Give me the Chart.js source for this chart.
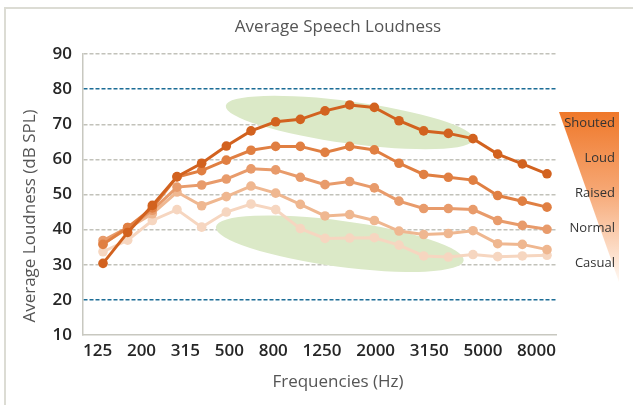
<!DOCTYPE html>
<html>
<head>
<meta charset="utf-8">
<script src="https://cdn.jsdelivr.net/npm/chart.js@4.4.0/dist/chart.umd.min.js"></script>
<style>
  html, body { margin: 0; padding: 0; background: #fff; }
</style>
</head>
<body>
<canvas id="myChart" width="633" height="405"></canvas>
<script>
// 1/3 octave bands
const frequencies = ['125', '160', '200', '250', '315', '400', '500', '630', '800', '1000',
    '1250', '1600', '2000', '2500', '3150', '4000', '5000', '6300', '8000'];
const levelNames = ['Shouted', 'Loud', 'Raised', 'Normal', 'Casual'];

const shouted = [30.4, 39.2, 46.9, 55.1, 58.9, 63.8, 68.1, 70.7, 71.4, 73.8, 75.5, 74.8, 71.0, 68.1, 67.4, 65.9, 61.5, 58.7, 55.9];
const loud    = [35.8, 40.6, 46.2, 55.0, 56.8, 59.8, 62.6, 63.7, 63.7, 62.0, 63.7, 62.7, 58.9, 55.7, 54.9, 54.1, 49.7, 48.1, 46.4];
const raised  = [36.9, 40.6, 45.5, 52.1, 52.7, 54.4, 57.3, 57.0, 54.9, 52.8, 53.7, 51.9, 48.1, 46.0, 46.0, 45.7, 42.6, 41.2, 40.1];
const normal  = [36.0, 40.3, 44.5, 50.7, 46.8, 49.4, 52.4, 50.4, 47.2, 43.9, 44.3, 42.6, 39.6, 38.6, 38.9, 39.7, 36.0, 35.8, 34.3];
const casual  = [33.7, 37.0, 42.6, 45.7, 40.7, 45.0, 47.3, 45.7, 40.3, 37.5, 37.6, 37.7, 35.6, 32.5, 32.2, 32.9, 32.3, 32.5, 32.7];

const yMin = 10, yMax = 90, yStep = 10;
const blueLines = [20, 80];

const seriesColors = ['#d2621f', '#e07f42', '#e89b6b', '#efb790', '#f6d6c0'];
const allSeries = [shouted, loud, raised, normal, casual];

const datasets = allSeries.map((vals, i) => ({
    label: levelNames[i],
    data: vals.map((v, j) => ({ x: j, y: v })),
    borderColor: seriesColors[i],
    backgroundColor: seriesColors[i],
    pointBackgroundColor: seriesColors[i],
    pointBorderWidth: 0,
    pointRadius: 4.8,
    borderWidth: 3,
    tension: 0
}));

const font = '"Open Sans", "DejaVu Sans", sans-serif';

const decor = {
    id: 'decor',
    beforeDraw(chart) {
        const ctx = chart.ctx;
        ctx.save();
        ctx.fillStyle = '#fff';
        ctx.fillRect(0, 0, chart.width, chart.height);
        ctx.strokeStyle = '#dcdcd4';
        ctx.lineWidth = 2;
        ctx.beginPath();
        ctx.moveTo(5, chart.height);
        ctx.lineTo(5, 8);
        ctx.lineTo(chart.width, 8);
        ctx.stroke();
        ctx.restore();
    },
    beforeDatasetsDraw(chart) {
        // green highlight areas
        const { ctx, scales: { x, y } } = chart;
        ctx.save();
        ctx.fillStyle = '#dbe9c7';
        [[10, 70.5, 125, 21], [9.6, 36, 125, 23]].forEach(([cx, cy, rx, ry]) => {
            ctx.beginPath();
            ctx.ellipse(x.getPixelForValue(cx), y.getPixelForValue(cy), rx, ry, 7.7 * Math.PI / 180, 0, Math.PI * 2);
            ctx.fill();
        });
        ctx.restore();
    },
    afterDraw(chart) {
        const { ctx, chartArea, scales: { y } } = chart;
        ctx.save();

        // titles
        ctx.fillStyle = '#555';
        ctx.textAlign = 'center';
        ctx.textBaseline = 'middle';
        ctx.font = '17px ' + font;
        ctx.fillText('Average Speech Loudness', 338, 27);
        ctx.fillText('Frequencies (Hz)', 338, 382);
        ctx.save();
        ctx.translate(30, 216);
        ctx.rotate(-Math.PI / 2);
        ctx.fillText('Average Loudness (dB SPL)', 0, 0);
        ctx.restore();

        // frequency labels, every other band, spread over the axis
        const shown = frequencies.filter((f, i) => i % 2 === 0);
        ctx.font = '600 17px ' + font;
        ctx.fillStyle = '#262626';
        const widths = shown.map(s => ctx.measureText(s).width);
        const total = widths.reduce((a, b) => a + b, 0);
        const gap = (chartArea.right - chartArea.left - total) / (shown.length - 1);
        let xx = chartArea.left;
        ctx.textAlign = 'left';
        shown.forEach((s, i) => {
            ctx.fillText(s, xx, chartArea.bottom + 16);
            xx += widths[i] + gap;
        });

        // loudness wedge
        const tx0 = chartArea.right + 3, tx1 = tx0 + 60, ty0 = 112, ty1 = 282;
        const g = ctx.createLinearGradient(0, ty0, 0, ty1);
        g.addColorStop(0, '#ef782a');
        g.addColorStop(0.45, '#f6a672');
        g.addColorStop(1, '#fff8f2');
        ctx.fillStyle = g;
        ctx.beginPath();
        ctx.moveTo(tx0, ty0);
        ctx.lineTo(tx1, ty0);
        ctx.lineTo(tx1, ty1);
        ctx.closePath();
        ctx.fill();

        ctx.fillStyle = '#333';
        ctx.font = '13px ' + font;
        ctx.textAlign = 'right';
        levelNames.forEach((name, i) => {
            ctx.fillText(name, tx1 - 4, y.getPixelForValue(70 - i * 10) - 1);
        });
        ctx.restore();
    }
};

const ctx = document.getElementById('myChart');
const myChart = new Chart(ctx, {
    type: 'line',
    data: { datasets: datasets },
    options: {
        responsive: false,
        animation: false,
        devicePixelRatio: 1,
        layout: { padding: { top: 54, right: 77, left: 0, bottom: 0 } },
        plugins: {
            legend: { display: false },
            tooltip: { enabled: false }
        },
        scales: {
            x: {
                type: 'linear',
                min: -0.811,
                max: 18.365,
                afterFit(scale) { scale.height = 70; },
                ticks: { display: false },
                grid: { display: false },
                border: { color: '#c8c8c0', width: 1.5 }
            },
            y: {
                min: yMin,
                max: yMax,
                afterFit(scale) { scale.width = 83; },
                ticks: {
                    stepSize: yStep,
                    padding: 11,
                    color: '#262626',
                    font: { family: font, size: 17, weight: '600' }
                },
                grid: {
                    drawTicks: false,
                    lineWidth: 1.5,
                    color: (c) => c.tick.value === yMin ? 'rgba(0,0,0,0)'
                        : blueLines.includes(c.tick.value) ? '#1c6d96' : '#c2c2ba'
                },
                border: { color: '#c8c8c0', width: 1.5, dash: [4, 2] }
            }
        }
    },
    plugins: [decor]
});
</script>
</body>
</html>
